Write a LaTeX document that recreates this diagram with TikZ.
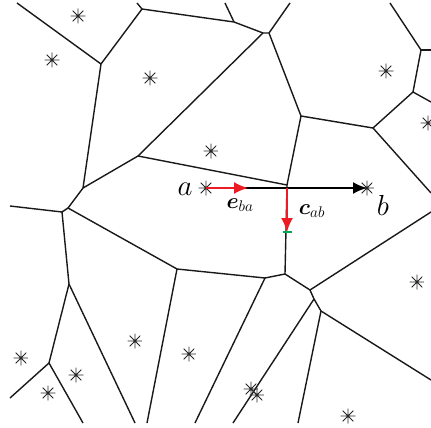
\RequirePackage{fix-cm}
\documentclass[tikz,border=0pt]{standalone}
\usepackage{amsmath}
\usepackage{xcolor}
\usepackage{tikz}
\usetikzlibrary{arrows.meta}
\DeclareFontShape{OML}{cmm}{b}{it}{<->cmmib10}{}
\definecolor{vred}{RGB}{237,28,36}
\definecolor{vgreen}{RGB}{0,166,81}

\begin{document}
\begin{tikzpicture}[x=1pt, y=-1pt, edge/.style={line width=1.4pt, line join=round, black!90}, site/.style={circle, inner sep=0pt, minimum size=15pt, path picture={\draw[black!85, line width=0.75pt] (path picture bounding box.north) -- (path picture bounding box.south) (path picture bounding box.east) -- (path picture bounding box.west) (path picture bounding box.north east) -- (path picture bounding box.south west) (path picture bounding box.north west) -- (path picture bounding box.south east);}}, arr/.style={line width=2pt, -{Latex[length=14pt, width=12pt]}}, lbl/.style={anchor=base, inner sep=0pt, font=\fontsize{29}{34}\selectfont}, vec/.style={anchor=base, inner sep=0pt, font=\fontsize{22}{26}\selectfont}]
\useasboundingbox (0,0) rectangle (431,428);
\coordinate (v1) at (101,64);
\coordinate (v2) at (142,9);
\coordinate (v3) at (83,188);
\coordinate (v4) at (138,156);
\coordinate (v5a) at (62,212);
\coordinate (v5b) at (68,208);
\coordinate (v6) at (234,22);
\coordinate (v7a) at (263,33);
\coordinate (v7b) at (269,33);
\coordinate (v8) at (301,116);
\coordinate (v9) at (373,128);
\coordinate (v10) at (287,185);
\coordinate (v11) at (413,92);
\coordinate (v12) at (421,50);
\coordinate (v13) at (285,274);
\coordinate (v14) at (265,278);
\coordinate (v15) at (310,290);
\coordinate (v16) at (314,299);
\coordinate (v17) at (321,311);
\coordinate (v18) at (69,284);
\coordinate (v19) at (177,269);
\coordinate (v20) at (49,363);
\draw[edge] (17,3) -- (v1) -- (v3) -- (v5b) -- (v5a) -- (10,206);
\draw[edge] (v1) -- (v2) -- (v6) -- (v7a) -- (v7b) -- (v8) -- (v9) -- (v11) -- (v12) -- (390,3);
\draw[edge] (v2) -- (137,3);
\draw[edge] (v6) -- (225,3);
\draw[edge] (v7b) -- (290,3);
\draw[edge] (v7a) -- (v4) -- (v3);
\draw[edge] (v4) -- (v10) -- (v8);
\draw[edge] (v10) -- (v13) -- (v14) -- (v19) -- (v5b);
\draw[edge] (v5a) -- (v18) -- (v20) -- (10,398);
\draw[edge] (v20) -- (83,423);
\draw[edge] (v18) -- (135,423);
\draw[edge] (v19) -- (147,423);
\draw[edge] (v14) -- (195,423);
\draw[edge] (v13) -- (v15) -- (431,212);
\draw[edge] (v15) -- (v16) -- (v17) -- (431,380);
\draw[edge] (v16) -- (233,423);
\draw[edge] (v17) -- (298,423);
\draw[edge] (v9) -- (431,193);
\draw[edge] (v11) -- (431,102);
\draw[edge] (v12) -- (431,50);
\node[site] (s1) at (78,16) {};
\node[site] (s2) at (52,60) {};
\node[site] (s3) at (150,78) {};
\node[site] (s4) at (211,151) {};
\node[site] (sa) at (206,188) {};
\node[site] (sb) at (367,188) {};
\node[site] (s5) at (386,71) {};
\node[site] (s6) at (428,123) {};
\node[site] (s7) at (417,282) {};
\node[site] (s8) at (21,358) {};
\node[site] (s9) at (76,375) {};
\node[site] (s10) at (48,393) {};
\node[site] (s11) at (135,341) {};
\node[site] (s12) at (189,354) {};
\node[site] (s13) at (251,389) {};
\node[site] (s14) at (257,395) {};
\node[site] (s15) at (348,416) {};
\coordinate (eba) at (248,188);
\coordinate (mid) at (287,188);
\coordinate (cab) at (287,232);
\draw[arr, black] (sa.center) -- (sb.center);
\draw[arr, vred] (sa.center) -- (eba);
\draw[arr, vred] (mid) -- (cab);
\draw[vgreen, line width=1.5pt] ([xshift=-4.5pt]cab) -- ([xshift=4.5pt]cab);
\node[lbl] (la) at (185,195) {$a$};
\node[lbl] (lb) at (383,215) {$b$};
\node[vec] (le) at (240,208) {$\boldsymbol{e}_{ba}$};
\node[vec] (lc) at (312,214) {$\boldsymbol{c}_{ab}$};
\end{tikzpicture}
\end{document}
